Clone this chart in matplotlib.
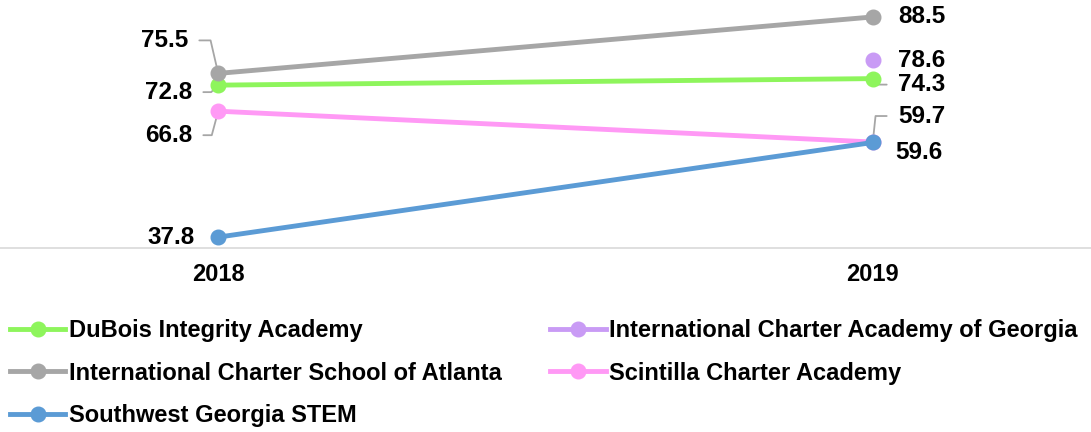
import matplotlib
matplotlib.use("Agg")
import matplotlib.pyplot as plt
from matplotlib.lines import Line2D

plt.rcParams['font.family'] = ['Liberation Sans', 'DejaVu Sans']
plt.rcParams['font.weight'] = 'bold'

years = ['2018', '2019']
schools = ['DuBois Integrity Academy',
           'International Charter Academy of Georgia',
           'International Charter School of Atlanta',
           'Scintilla Charter Academy',
           'Southwest Georgia STEM']
dubois = [72.8, 74.3]
icag = [None, 78.6]
icsa = [75.5, 88.5]
scintilla = [66.8, 59.7]
swga = [37.8, 59.6]
values = [dubois, icag, icsa, scintilla, swga]
colors = ['#8ef55c', '#c99bf5', '#a6a6a6', '#ff99f5', '#5b9bd5']

# label placement: (series index, year index, dx px, dy px, ha, leader angle at point or None)
labels = [
    (2, 0, -30, 33, 'right', 103),
    (0, 0, -26, -7, 'right', 45),
    (3, 0, -26, -24, 'right', 75),
    (4, 0, -23, 0, 'right', None),
    (2, 1, 25, 0, 'left', None),
    (1, 1, 25, -1, 'left', None),
    (0, 1, 25, -6, 'left', -59),
    (3, 1, 25, 26, 'left', 84),
    (4, 1, 22, -10, 'left', None),
]

fig = plt.figure(figsize=(10.91, 4.32), dpi=100)
ax = fig.add_axes([0, 1 - 248 / 432, 1, 248 / 432])

x = list(range(len(years)))
handles = []
for name, vals, col in zip(schools, values, colors):
    xs = [i for i, v in zip(x, vals) if v is not None]
    ys = [v for v in vals if v is not None]
    ax.plot(xs, ys, color=col, lw=3.5, marker='o', ms=10.5, solid_capstyle='round', zorder=3)
    handles.append(Line2D([], [], color=col, lw=3.5, marker='o', ms=10.5, label=name))

for si, yi, dx, dy, ha, ang in labels:
    v = values[si][yi]
    txt = f"{v:.1f}"
    if ang is None:
        ax.annotate(txt, (x[yi], v), xytext=(dx, dy), textcoords='offset pixels',
                    ha=ha, va='center', fontsize=17.5, fontweight='bold', color='black')
    else:
        ax.annotate(txt, (x[yi], v), xytext=(dx, dy), textcoords='offset pixels',
                    ha=ha, va='center', fontsize=17.5, fontweight='bold', color='black',
                    arrowprops=dict(arrowstyle='-', color='#a6a6a6', lw=1.3,
                                    relpos=(1, 0.5) if ha == 'right' else (0, 0.5),
                                    connectionstyle=f'angle,angleA=0,angleB={ang},rad=0',
                                    shrinkA=6, shrinkB=0),
                    zorder=1)

ax.set_xlim(-1 / 3, 4 / 3)
ax.set_ylim(35.3, 92.4)
ax.set_xticks(x)
ax.set_xticklabels(years, fontsize=17, fontweight='bold')
ax.tick_params(axis='x', length=0, pad=11)
ax.set_yticks([])
for s in ['top', 'left', 'right']:
    ax.spines[s].set_visible(False)
ax.spines['bottom'].set_color('#d9d9d9')
ax.spines['bottom'].set_linewidth(1.2)

order = [0, 2, 4, 1, 3]
fig.legend([handles[i] for i in order], [schools[i] for i in order],
           loc='upper left', bbox_to_anchor=(10 / 1091, 1 - 319 / 432), ncol=2,
           frameon=False, prop={'weight': 'bold', 'size': 17},
           handlelength=2.35, handletextpad=0.15, columnspacing=2.05,
           labelspacing=0.83, borderpad=0, borderaxespad=0)

fig.savefig('out.png', dpi=100)
